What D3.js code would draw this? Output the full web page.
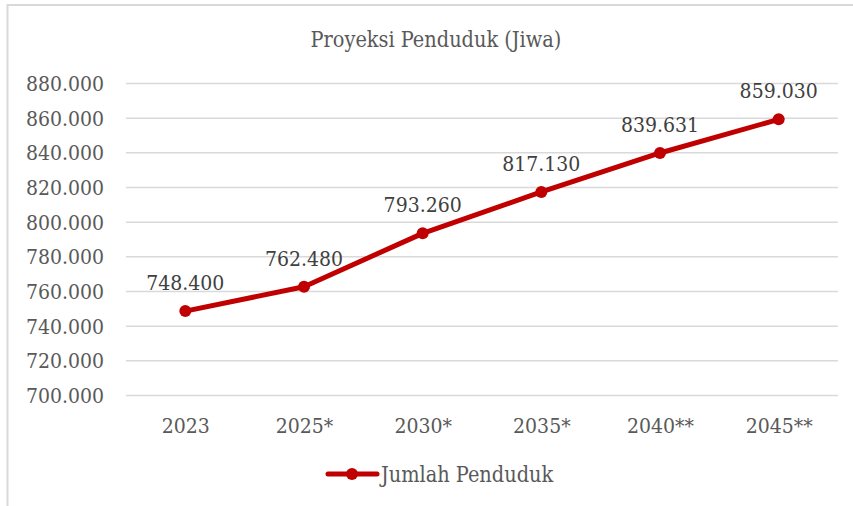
<!DOCTYPE html>
<html>
<head>
<meta charset="utf-8">
<script src="https://cdn.jsdelivr.net/npm/d3@7"></script>
<style>
  html, body { margin: 0; padding: 0; background: #fff; }
  svg { display: block; }
  text { font-family: "DejaVu Serif Condensed", "DejaVu Serif", serif; font-stretch: condensed; }
</style>
</head>
<body>
<svg id="chart" width="853" height="506"></svg>
<script>
// Population projection (people)
const categories = ["2023", "2025*", "2030*", "2035*", "2040**", "2045**"];
const population = [748400, 762480, 793260, 817130, 839631, 859030];
const yTicks = [700000, 720000, 740000, 760000, 780000, 800000, 820000, 840000, 860000, 880000];
const seriesName = "Jumlah Penduduk";
const chartTitle = "Proyeksi Penduduk (Jiwa)";

const W = 853, H = 506;
const svg = d3.select("#chart");
const plot = { left: 126, right: 838, top: 83, bottom: 395 };
const red = "#C00000";
const grid = "#d9d9d9";

// Indonesian number format: dot as thousands separator
const fmt = d3.formatLocale({ decimal: ",", thousands: ".", grouping: [3], currency: ["Rp", ""] }).format(",d");

// Chart frame (top and left edges visible)
svg.append("line").attr("x1", 7.5).attr("x2", W).attr("y1", 5).attr("y2", 5)
  .attr("stroke", grid).attr("stroke-width", 2);
svg.append("line").attr("x1", 7.5).attr("x2", 7.5).attr("y1", 4).attr("y2", H)
  .attr("stroke", grid).attr("stroke-width", 2);

const x = d3.scalePoint().domain(categories).range([plot.left, plot.right]).padding(0.5);
const y = d3.scaleLinear().domain([700000, 880000]).range([plot.bottom, plot.top]);

// Title
svg.append("text").attr("x", 436).attr("y", 47).attr("text-anchor", "middle")
  .attr("fill", "#595959").attr("font-size", 21.5).text(chartTitle);

// Gridlines + y labels
const yAxis = d3.axisLeft(y).tickValues(yTicks).tickSize(plot.left - plot.right).tickFormat(fmt).tickPadding(22);
const gy = svg.append("g").attr("transform", `translate(${plot.left},0)`).call(yAxis);
gy.select(".domain").remove();
gy.selectAll(".tick line").attr("x1", 0).attr("x2", plot.right - plot.left)
  .attr("stroke", grid).attr("stroke-width", 1.5);
gy.selectAll(".tick text").attr("fill", "#595959").attr("font-size", 21)
  .attr("font-family", null).attr("dy", "0.35em");

// x labels
const xAxis = d3.axisBottom(x).tickSize(0).tickPadding(0);
const gx = svg.append("g").attr("transform", `translate(0,${plot.bottom})`).call(xAxis);
gx.select(".domain").remove();
gx.selectAll(".tick text").attr("fill", "#595959").attr("font-size", 21)
  .attr("font-family", null).attr("dy", 0).attr("y", 38);

// Series line
const line = d3.line().x((d, i) => x(categories[i])).y(d => y(d));
svg.append("path").datum(population).attr("d", line).attr("fill", "none")
  .attr("stroke", red).attr("stroke-width", 5).attr("stroke-linejoin", "round").attr("stroke-linecap", "round");

svg.append("g").selectAll("circle").data(population).join("circle")
  .attr("cx", (d, i) => x(categories[i])).attr("cy", d => y(d)).attr("r", 6).attr("fill", red);

// Value labels
svg.append("g").selectAll("text").data(population).join("text")
  .attr("x", (d, i) => x(categories[i])).attr("y", d => y(d) - 21)
  .attr("text-anchor", "middle").attr("fill", "#404040").attr("font-size", 21)
  .text(d => fmt(d));

// Legend
const lg = svg.append("g");
lg.append("line").attr("x1", 328).attr("x2", 377).attr("y1", 474).attr("y2", 474)
  .attr("stroke", red).attr("stroke-width", 5).attr("stroke-linecap", "round");
lg.append("circle").attr("cx", 352).attr("cy", 474).attr("r", 6).attr("fill", red);
lg.append("text").attr("x", 381).attr("y", 482).attr("fill", "#595959").attr("font-size", 21.5).text(seriesName);
</script>
</body>
</html>
